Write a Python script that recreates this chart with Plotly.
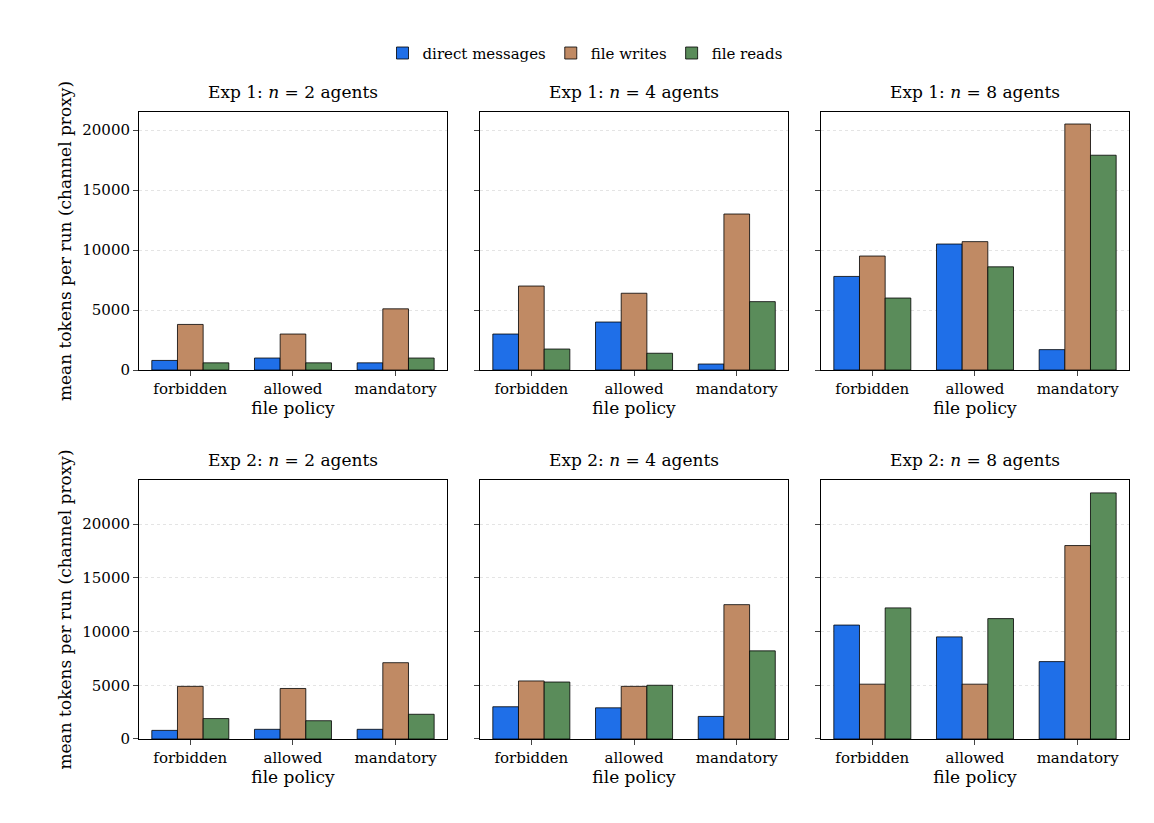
import plotly.graph_objects as go

policies = ["forbidden", "allowed", "mandatory"]
series = ["direct messages", "file writes", "file reads"]
colors = ["#1f6fe8", "#c08a64", "#5a8c5a"]
titles = ["Exp 1: <i>n</i> = 2 agents", "Exp 1: <i>n</i> = 4 agents", "Exp 1: <i>n</i> = 8 agents",
          "Exp 2: <i>n</i> = 2 agents", "Exp 2: <i>n</i> = 4 agents", "Exp 2: <i>n</i> = 8 agents"]

exp1_n2 = [[800, 1000, 600], [3800, 3000, 5100], [600, 600, 1000]]
exp1_n4 = [[3000, 4000, 500], [7000, 6400, 13000], [1750, 1400, 5700]]
exp1_n8 = [[7800, 10500, 1700], [9500, 10700, 20500], [6000, 8600, 17900]]
exp2_n2 = [[800, 900, 900], [4900, 4700, 7100], [1900, 1700, 2300]]
exp2_n4 = [[3000, 2900, 2100], [5400, 4900, 12500], [5300, 5000, 8200]]
exp2_n8 = [[10600, 9500, 7200], [5100, 5100, 18000], [12200, 11200, 22900]]
panels = [exp1_n2, exp1_n4, exp1_n8, exp2_n2, exp2_n4, exp2_n8]

xdom = [(0.1135, 0.3804), (0.409, 0.676), (0.7045, 0.9714)]
ydom = [(0.5601, 0.8736), (0.1118, 0.4265)]
yr = [[0, 21500], [0, 24100]]
font = dict(family="DejaVu Serif", size=15, color="black")
tfont = dict(family="DejaVu Serif", size=17, color="black")

fig = go.Figure()
layout = {}
for i, data in enumerate(panels):
    r, c = divmod(i, 3)
    k = i + 1
    xa, ya = ("x" if k == 1 else f"x{k}"), ("y" if k == 1 else f"y{k}")
    for s in range(3):
        fig.add_trace(go.Bar(x=policies, y=data[s], name=series[s], marker_color=colors[s],
                             marker_line=dict(color="black", width=0.8),
                             showlegend=(i == 0), xaxis=xa, yaxis=ya, legendgroup=series[s]))
    layout[f"xaxis{'' if k==1 else k}"] = dict(domain=xdom[c], anchor=ya, showline=True, mirror=True,
        linecolor="black", ticks="outside", tickfont=font, automargin=False,
        title=dict(text="file policy", font=tfont, standoff=4))
    layout[f"yaxis{'' if k==1 else k}"] = dict(domain=ydom[r], anchor=xa, range=yr[r], showline=True, mirror=True,
        linecolor="black", ticks="outside", tickfont=font, showgrid=True, gridcolor="#e4e4e4", griddash="dot",
        showticklabels=(c == 0), zeroline=False, tickformat="d", dtick=5000, automargin=False,
        title=dict(text="mean tokens per run (channel proxy)" if c == 0 else "", font=tfont, standoff=6))
    fig.add_annotation(text=titles[i], xref="paper", yref="paper", x=sum(xdom[c]) / 2, y=ydom[r][1] + 0.01,
                       xanchor="center", yanchor="bottom", showarrow=False, font=tfont)

fig.update_layout(**layout, barmode="group", bargap=0.25, bargroupgap=0,
                  width=1154, height=823, margin=dict(l=0, r=0, t=0, b=0, autoexpand=False),
                  plot_bgcolor="white", paper_bgcolor="white", font=font,
                  legend=dict(orientation="h", x=0.5, xanchor="center", y=0.945, yanchor="middle", font=font))
fig.write_html("out.html")
